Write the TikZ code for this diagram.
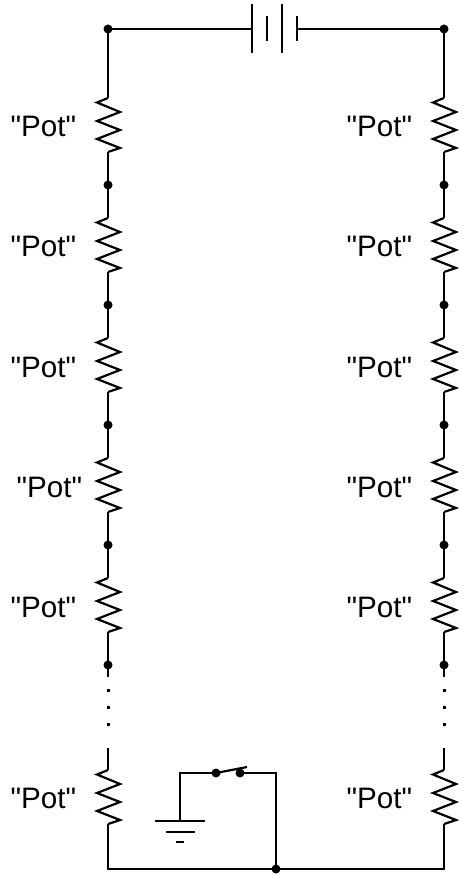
\documentclass[tikz,border=0pt]{standalone}
\usepackage{fontspec}
\newfontfamily\potfont{Liberation Sans}
\tikzset{
  wire/.style={line width=2.2pt,line join=miter,line cap=butt},
  junction/.style={circle,fill=black,draw=none,inner sep=0pt,minimum size=9pt},
  plate/.style={line width=2.2pt},
  potlabel/.style={anchor=base west,inner sep=0pt,font=\potfont\fontsize{29.6}{31}\selectfont},
  elide/.style={rectangle,fill=black,draw=none,inner sep=0pt,minimum size=3pt},
  zig/.style={wire,to path={-- ++(0,0) -- ++(-11,4.5) -- ++(23,9.5) -- ++(-23,9) -- ++(23,9) -- ++(-23,9) -- ++(23,9) -- ++(-12,4) \tikztonodes}}
}
\begin{document}
\begin{tikzpicture}[x=1pt,y=-1pt]
\useasboundingbox (0,0) rectangle (461,874);
% junctions and terminals
\foreach \s/\x in {L/108,R/444}{
  \node[junction] (\s0) at (\x,29) {};
  \foreach \i/\y in {1/185,2/305,3/425,4/545,5/665}{
    \node[junction] (\s\i) at (\x,\y) {};
  }
  \foreach \i/\y in {1/98,2/218,3/338,4/458,5/578,6/770}{
    \coordinate (\s a\i) at (\x,\y);
    \coordinate (\s b\i) at (\x,\y+54);
  }
  \coordinate (\s e) at (\x,677);
  \coordinate (\s s) at (\x,748);
  \coordinate (\s c) at (\x,869);
  \node[elide] (\s d1) at (\x,690) {};
  \node[elide] (\s d2) at (\x,707) {};
  \node[elide] (\s d3) at (\x,724) {};
  % column wiring
  \draw[wire] (\s0.center) -- (\s a1);
  \foreach \i/\j in {1/1,2/2,3/3,4/4,5/5}{
    \draw[zig] (\s a\i) to (\s b\i);
    \draw[wire] (\s b\i) -- (\s\j.center);
  }
  \foreach \i/\j in {1/2,2/3,3/4,4/5}{
    \draw[wire] (\s\i.center) -- (\s a\j);
  }
  \draw[wire] (\s5.center) -- (\s e);
  \draw[wire] (\s s) -- (\s a6);
  \draw[zig] (\s a6) to (\s b6);
}
% bottom loop
\node[junction] (J) at (276,869) {};
\draw[wire] (Lb6) -- (Lc) -- (J.center) -- (Rc) -- (Rb6);
% battery
\coordinate (B1) at (252,29);
\coordinate (B4) at (297,29);
\draw[wire] (L0.center) -- (B1);
\draw[wire] (B4) -- (R0.center);
\draw[plate] (252,4) -- (252,53);
\draw[plate] (267,16) -- (267,41);
\draw[plate] (282,4) -- (282,53);
\draw[plate] (297,16) -- (297,41);
% switch and ground
\node[junction] (S1) at (216,773) {};
\node[junction] (S2) at (240,773) {};
\coordinate (G) at (180,821);
\draw[wire] (G) -- (180,773) -- (S1.center);
\draw[wire] (S1.center) -- (247,767);
\draw[wire] (S2.center) -- (276,773) -- (J.center);
\draw[plate] (155,821) -- (205,821);
\draw[plate] (166,832) -- (195,832);
\draw[plate] (176,842) -- (184,842);
% labels
\foreach \n/\y/\xl in {1/137/10.5,2/257/10.5,3/377/10.5,4/497/16.5,5/617/10.5,6/808/10.5}{
  \node[potlabel] (TL\n) at (\xl,\y) {"Pot"};
  \node[potlabel] (TR\n) at (346.5,\y) {"Pot"};
}
\end{tikzpicture}
\end{document}
